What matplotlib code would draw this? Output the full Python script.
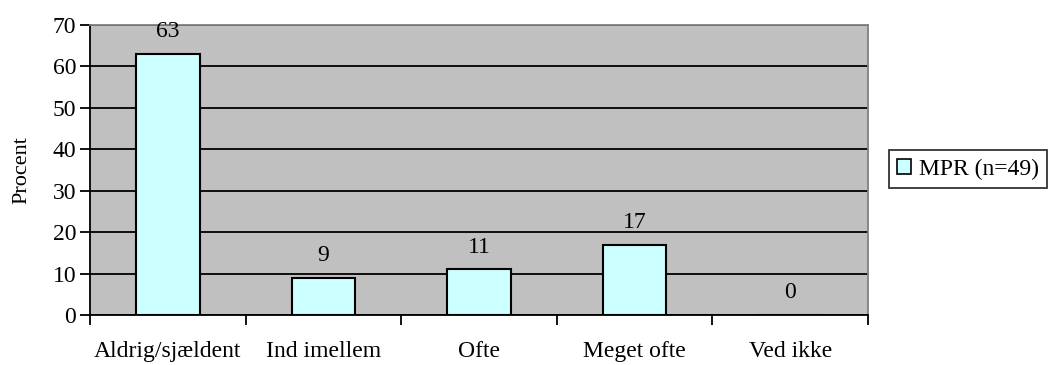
import matplotlib
matplotlib.use("Agg")
import matplotlib.pyplot as plt
from matplotlib.patches import Patch

categories = ["Aldrig/sjældent", "Ind imellem", "Ofte", "Meget ofte", "Ved ikke"]
values = [63, 9, 11, 17, 0]
series_name = "MPR (n=49)"
yticks = [0, 10, 20, 30, 40, 50, 60, 70]

plt.rcParams["font.family"] = ["Liberation Serif", "DejaVu Serif"]
FS = 17

fig = plt.figure(figsize=(10.51, 3.65), dpi=100)
ax = fig.add_axes([90 / 1051, 1 - 315 / 365, (868 - 90) / 1051, (315 - 25) / 365])

ax.set_facecolor("#C0C0C0")
x = list(range(len(categories)))
ax.bar(x, values, width=0.41, color="#CCFFFF", edgecolor="black",
       linewidth=1.5, zorder=3)

ax.set_xlim(-0.5, len(categories) - 0.5)
ax.set_ylim(0, 70)
ax.set_yticks(yticks)
ax.yaxis.grid(True, color="black", linewidth=1.3, zorder=1)
ax.set_axisbelow(True)

# category boundaries carry the x ticks, labels sit centred under each bar
ax.set_xticks([i - 0.5 for i in range(len(categories) + 1)])
ax.set_xticklabels([])
ax.tick_params(axis="x", direction="out", length=7, width=1.3, color="black")
ax.tick_params(axis="y", direction="out", length=7, width=1.3, color="black",
               labelsize=FS, pad=3)
for i, name in enumerate(categories):
    ax.annotate(name, xy=(i, 0), xycoords=("data", "axes fraction"),
                xytext=(0, -26), textcoords="offset points",
                ha="center", va="center", fontsize=FS)

for i, v in enumerate(values):
    ax.annotate(str(v), xy=(i, v), xytext=(0, 16), textcoords="offset points",
                ha="center", va="center", fontsize=FS)

for side in ("left", "bottom"):
    ax.spines[side].set_color("black")
    ax.spines[side].set_linewidth(1.3)
for side in ("top", "right"):
    ax.spines[side].set_color("#808080")
    ax.spines[side].set_linewidth(1.3)

ax.set_ylabel("Procent", fontsize=16, labelpad=15)

handle = Patch(facecolor="#CCFFFF", edgecolor="black", linewidth=1.2)
leg = fig.legend([handle], [series_name], loc="center left",
                 bbox_to_anchor=(889 / 1051, 1 - 169 / 365), frameon=True,
                 fancybox=False, edgecolor="black", fontsize=FS,
                 handlelength=0.6, handleheight=0.6, handletextpad=0.3,
                 borderpad=0.35, borderaxespad=0)
leg.get_frame().set_linewidth(1.3)

fig.savefig("out.png", dpi=100)
